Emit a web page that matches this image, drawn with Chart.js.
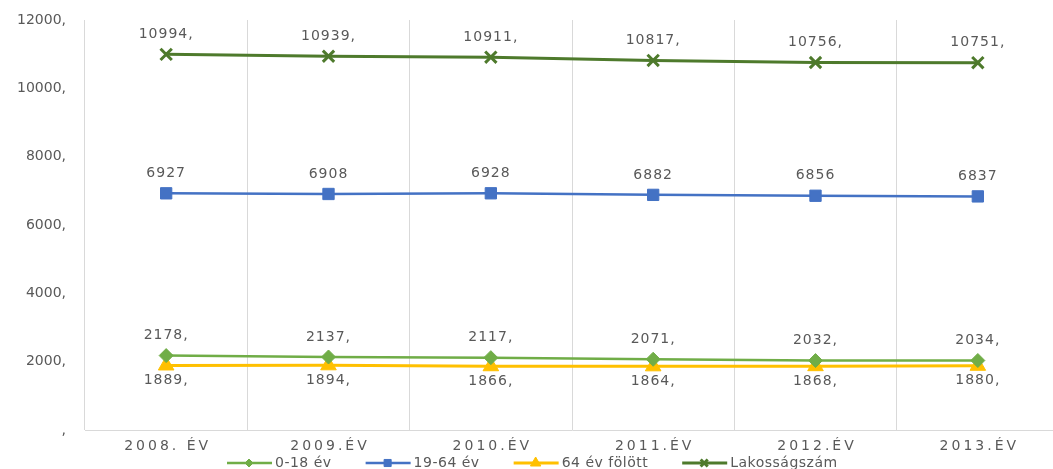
<!DOCTYPE html>
<html>
<head>
<meta charset="utf-8">
<script src="https://cdn.jsdelivr.net/npm/chart.js@4.4.1/dist/chart.umd.min.js"></script>
<style>
  html, body { margin: 0; padding: 0; background: #fff; overflow: hidden; }
  #wrap { width: 1059px; height: 469px; }
</style>
</head>
<body>
<div id="wrap"><canvas id="chart" width="1059" height="469"></canvas></div>
<script>
const years = ['2008. ÉV', '2009.ÉV', '2010.ÉV', '2011.ÉV', '2012.ÉV', '2013.ÉV'];
const youth = [2178, 2137, 2117, 2071, 2032, 2034];      // 0-18 év
const working = [6927, 6908, 6928, 6882, 6856, 6837];    // 19-64 év
const elderly = [1889, 1894, 1866, 1864, 1868, 1880];    // 64 év fölött
const population = [10994, 10939, 10911, 10817, 10756, 10751]; // Lakosságszám

const textColor = '#595959';
const fontFamily = '"DejaVu Sans", Verdana, sans-serif';

// label placement per dataset: above/below and whether a trailing comma is shown
const labelStyle = [
    { pos: 'above', comma: true },
    { pos: 'above', comma: false },
    { pos: 'below', comma: true },
    { pos: 'above', comma: true }
];

const extrasPlugin = {
    id: 'extras',
    afterDatasetsDraw(chart) {
        const ctx = chart.ctx;
        ctx.save();
        ctx.fillStyle = textColor;
        ctx.font = '14px ' + fontFamily;
        ctx.textAlign = 'center';
        ctx.textBaseline = 'middle';
        ctx.letterSpacing = '1px';
        chart.data.datasets.forEach((ds, i) => {
            const meta = chart.getDatasetMeta(i);
            meta.data.forEach((pt, j) => {
                const st = labelStyle[i];
                const txt = ds.data[j] + (st.comma ? ',' : '');
                const y = st.pos === 'above' ? pt.y - 20 : pt.y + 15;
                ctx.fillText(txt, pt.x, y);
            });
        });

        // x axis labels, letter spaced
        const xs = chart.scales.x;
        ctx.letterSpacing = '3px';
        years.forEach((lab, i) => {
            ctx.fillText(lab, xs.getPixelForTick(i) + 1.5, 446);
        });

        // legend: line with marker, then text
        ctx.letterSpacing = '0.5px';
        ctx.textAlign = 'left';
        let x = 227;
        const ly = 463;
        chart.data.datasets.forEach(ds => {
            ctx.strokeStyle = ds.borderColor;
            ctx.lineWidth = ds.borderWidth;
            ctx.beginPath();
            ctx.moveTo(x, ly);
            ctx.lineTo(x + 45, ly);
            ctx.stroke();
            ctx.fillStyle = ds.pointBackgroundColor;
            ctx.strokeStyle = ds.pointBorderColor;
            ctx.lineWidth = ds.pointBorderWidth;
            Chart.helpers.drawPoint(ctx, {
                pointStyle: ds.pointStyle,
                radius: ds.pointRadius - 3,
                borderWidth: ds.pointBorderWidth,
                rotation: 0
            }, x + 22, ly);
            ctx.fillStyle = textColor;
            ctx.fillText(ds.label, x + 48, ly);
            x += 48 + ctx.measureText(ds.label).width + 34;
        });
        ctx.restore();
    }
};

new Chart(document.getElementById('chart').getContext('2d'), {
    type: 'line',
    data: {
        labels: years,
        datasets: [
            {
                label: '0-18 év', data: youth,
                borderColor: '#70AD47', backgroundColor: '#70AD47',
                pointBackgroundColor: '#70AD47', pointBorderColor: '#70AD47',
                borderWidth: 2.5, pointStyle: 'rectRot', pointRadius: 7, pointBorderWidth: 1
            },
            {
                label: '19-64 év', data: working,
                borderColor: '#4472C4', backgroundColor: '#4472C4',
                pointBackgroundColor: '#4472C4', pointBorderColor: '#4472C4',
                borderWidth: 2.5, pointStyle: 'rect', pointRadius: 8, pointBorderWidth: 1
            },
            {
                label: '64 év fölött', data: elderly,
                borderColor: '#FFC000', backgroundColor: '#FFC000',
                pointBackgroundColor: '#FFC000', pointBorderColor: '#FFC000',
                borderWidth: 3, pointStyle: 'triangle', pointRadius: 9, pointBorderWidth: 1
            },
            {
                label: 'Lakosságszám', data: population,
                borderColor: '#4E7A2C', backgroundColor: '#4E7A2C',
                pointBackgroundColor: '#4E7A2C', pointBorderColor: '#4E7A2C',
                borderWidth: 3, pointStyle: 'crossRot', pointRadius: 8, pointBorderWidth: 3
            }
        ]
    },
    options: {
        responsive: false,
        animation: false,
        layout: { autoPadding: false, padding: { top: 20, left: 0, right: 0, bottom: 0 } },
        plugins: {
            legend: { display: false },
            tooltip: { enabled: false }
        },
        scales: {
            x: {
                offset: true,
                grid: { display: true, offset: true, color: '#D9D9D9', drawTicks: false },
                border: { display: true, color: '#D9D9D9' },
                ticks: { display: false },
                afterFit: scale => { scale.height = 39; }
            },
            y: {
                min: 0, max: 12000,
                grid: { display: false, drawTicks: false },
                border: { display: false },
                ticks: {
                    stepSize: 2000,
                    padding: 19,
                    color: textColor,
                    font: { size: 14, family: fontFamily },
                    callback: v => v === 0 ? ',' : v + ','
                },
                afterFit: scale => {
                    scale.width = 85;
                    scale.paddingTop = 8;
                    scale.paddingBottom = 8;
                }
            }
        }
    },
    plugins: [extrasPlugin]
});
</script>
</body>
</html>
